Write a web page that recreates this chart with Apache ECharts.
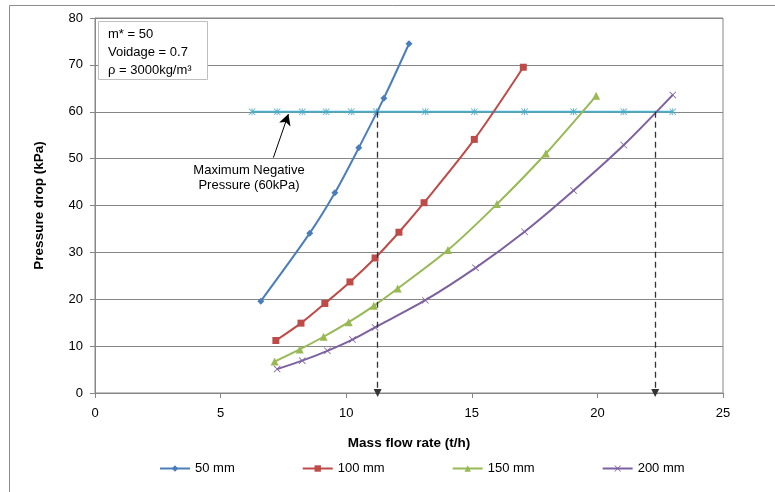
<!DOCTYPE html>
<html>
<head>
<meta charset="utf-8">
<script src="https://cdn.jsdelivr.net/npm/echarts@6/dist/echarts.min.js"></script>
<style>
  html, body { margin: 0; padding: 0; background: #fff; }
  #chart { width: 775px; height: 492px; }
</style>
</head>
<body>
<div id="chart"></div>
<script>
// Pressure drop vs. mass flow rate for four pipe diameters
const seriesNames = ['50 mm', '100 mm', '150 mm', '200 mm'];

const flow50   = [6.6, 8.55, 9.55, 10.5, 11.5, 12.5];
const drop50   = [19.6, 34.1, 42.7, 52.3, 62.9, 74.5];

const flow100  = [7.2, 8.2, 9.15, 10.15, 11.15, 12.1, 13.1, 15.1, 17.05];
const drop100  = [11.2, 14.9, 19.1, 23.7, 28.8, 34.3, 40.6, 54.1, 69.5];

const flow150  = [7.15, 8.15, 9.1, 10.1, 11.1, 12.05, 14.05, 16.0, 17.95, 19.95];
const drop150  = [6.7, 9.3, 12.0, 15.1, 18.6, 22.3, 30.5, 40.3, 51.1, 63.4];

const flow200  = [7.25, 8.25, 9.25, 10.25, 11.15, 13.15, 15.15, 17.1, 19.05, 21.05, 23.0];
const drop200  = [5.1, 6.9, 9.0, 11.4, 14.0, 19.8, 26.7, 34.4, 43.2, 52.9, 63.6];

// Maximum negative pressure limit
const limitFlow = [6.25, 7.25, 8.25, 9.2, 10.2, 11.2, 13.15, 15.1, 17.1, 19.05, 21.05, 23.0];
const limitDrop = 60;

// Flow rates where the 50 mm and 200 mm curves reach the limit
const crossFlows = [11.25, 22.3];

// Annotation arrow (tail, head) in data units
const noteArrow = [[7.1, 50.2], [7.7, 59.5]];

const xTicks = { min: 0, max: 25, interval: 5 };
const yTicks = { min: 0, max: 80, interval: 10 };

const colors = ['#4A7EBB', '#BE4B48', '#98B954', '#7D60A0', '#4BACC6'];
const FONT = '"Liberation Sans", Arial, sans-serif';
const AXIS = '#868686';

const xShape = 'path://M0,0.8L0.8,0L5,4.2L9.2,0L10,0.8L5.8,5L10,9.2L9.2,10L5,5.8L0.8,10L0,9.2L4.2,5Z';
const starShape = 'path://M0,0.8L0.8,0L5,4.2L9.2,0L10,0.8L5.8,5L10,9.2L9.2,10L5,5.8L0.8,10L0,9.2L4.2,5Z M4.4,0L5.6,0L5.6,10L4.4,10Z';

function pairs(xs, ys) { return xs.map((x, i) => [x, Array.isArray(ys) ? ys[i] : ys]); }

const chart = echarts.init(document.getElementById('chart'), null, { renderer: 'canvas' });

const option = {
  animation: false,
  backgroundColor: '#fff',
  textStyle: { fontFamily: FONT },
  grid: { left: 95, right: 52, top: 18, bottom: 99, show: true, borderColor: AXIS, borderWidth: 1 },
  xAxis: {
    type: 'value', min: xTicks.min, max: xTicks.max, interval: xTicks.interval,
    name: 'Mass flow rate (t/h)', nameLocation: 'middle', nameGap: 43,
    nameTextStyle: { fontFamily: FONT, fontWeight: 'bold', fontSize: 13.5, color: '#000' },
    axisLine: { lineStyle: { color: AXIS } },
    axisTick: { show: true, length: 5, lineStyle: { color: AXIS } },
    axisLabel: { fontFamily: FONT, fontSize: 13, color: '#000', margin: 14 },
    splitLine: { show: false }
  },
  yAxis: {
    type: 'value', min: yTicks.min, max: yTicks.max, interval: yTicks.interval,
    name: 'Pressure drop (kPa)', nameLocation: 'middle', nameGap: 49,
    nameTextStyle: { fontFamily: FONT, fontWeight: 'bold', fontSize: 13.5, color: '#000' },
    axisLine: { show: true, lineStyle: { color: AXIS } },
    axisTick: { show: true, length: 5, lineStyle: { color: AXIS } },
    axisLabel: { fontFamily: FONT, fontSize: 13, color: '#000', margin: 12 },
    splitLine: { lineStyle: { color: AXIS, width: 1 } }
  },
  legend: {
    data: seriesNames,
    top: 457,
    left: 154,
    itemWidth: 30, itemHeight: 8, itemGap: 67,
    textStyle: { fontFamily: FONT, fontSize: 13, color: '#000' }
  },
  graphic: [
    { type: 'rect', shape: { x: 9.5, y: 5.5, width: 800, height: 520 }, style: { fill: 'none', stroke: '#8c8c8c', lineWidth: 1 }, silent: true, z: -1 },
    { type: 'rect', shape: { x: 98.5, y: 21.5, width: 109, height: 58 }, style: { fill: '#fff', stroke: '#bfbfbf', lineWidth: 1 }, z: 10 },
    { type: 'text', x: 108, y: 28, z: 11, style: { text: 'm* = 50', font: '13px ' + FONT, fill: '#000' } },
    { type: 'text', x: 108, y: 46, z: 11, style: { text: 'Voidage = 0.7', font: '13px ' + FONT, fill: '#000' } },
    { type: 'text', x: 108, y: 64, z: 11, style: { text: 'ρ = 3000kg/m³', font: '13px ' + FONT, fill: '#000' } },
    { type: 'text', x: 249, y: 163, z: 11, style: { text: 'Maximum Negative\nPressure (60kPa)', font: '13px ' + FONT, fill: '#000', lineHeight: 15, align: 'center' } }
  ],
  series: [
    {
      name: seriesNames[0], type: 'line', smooth: 0.3, data: pairs(flow50, drop50),
      color: colors[0], symbol: 'diamond', symbolSize: 7,
      lineStyle: { width: 2 }, z: 4
    },
    {
      name: seriesNames[1], type: 'line', smooth: 0.3, data: pairs(flow100, drop100),
      color: colors[1], symbol: 'rect', symbolSize: 7,
      lineStyle: { width: 2 }, z: 4
    },
    {
      name: seriesNames[2], type: 'line', smooth: 0.3, data: pairs(flow150, drop150),
      color: colors[2], symbol: 'triangle', symbolSize: 8,
      lineStyle: { width: 2 }, z: 4
    },
    {
      name: seriesNames[3], type: 'line', smooth: 0.3, data: pairs(flow200, drop200),
      color: colors[3], symbol: xShape, symbolSize: 7,
      lineStyle: { width: 2 }, z: 4
    },
    {
      name: 'limit', type: 'line', data: pairs(limitFlow, limitDrop),
      color: colors[4], symbol: starShape, symbolSize: 7,
      lineStyle: { width: 2 }, z: 3,
      markLine: {
        silent: true, animation: false, z: 5,
        label: { show: false },
        data: [
          [ { coord: [crossFlows[0], limitDrop], symbol: 'none' },
            { coord: [crossFlows[0], 0], symbol: 'triangle', symbolSize: [8, 8], symbolRotate: 180 } ],
          [ { coord: [crossFlows[1], limitDrop], symbol: 'none' },
            { coord: [crossFlows[1], 0], symbol: 'triangle', symbolSize: [8, 8], symbolRotate: 180 } ],
          [ { coord: noteArrow[0], symbol: 'none', lineStyle: { type: 'solid', width: 1, color: '#000' } },
            { coord: noteArrow[1], symbol: 'arrow', symbolSize: [9, 11] } ]
        ],
        lineStyle: { type: [6, 4], color: '#333', width: 1.3 },
        itemStyle: { color: '#000' }
      }
    }
  ]
};

chart.setOption(option);
</script>
</body>
</html>
